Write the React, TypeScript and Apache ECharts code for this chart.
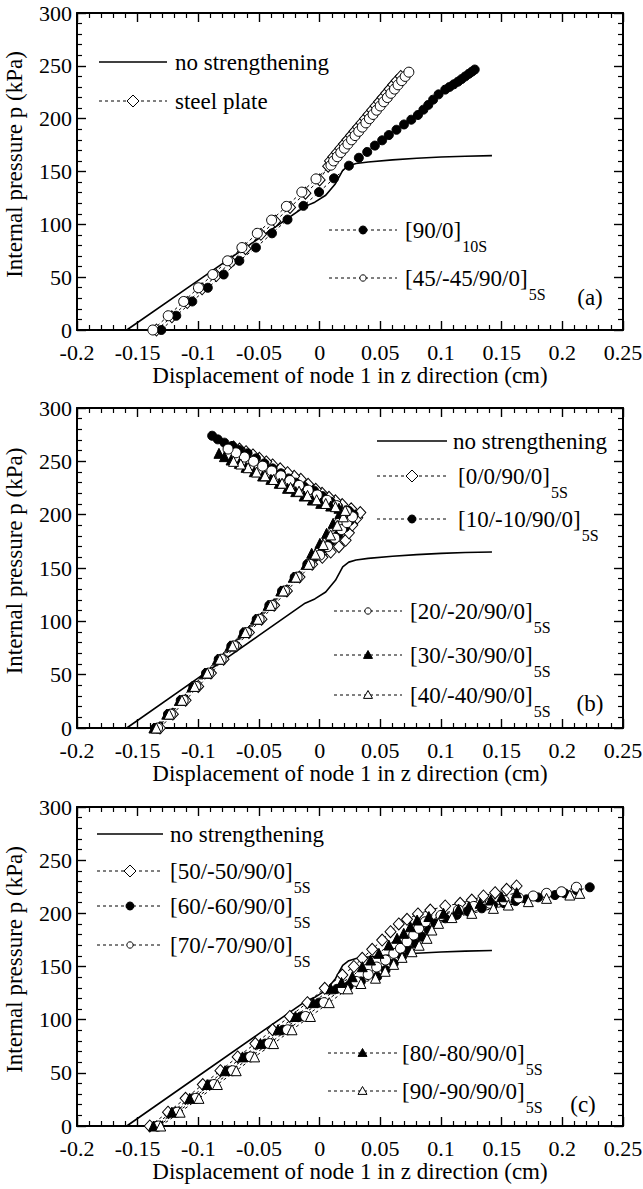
import React, { useEffect, useRef } from "react";
import * as echarts from "echarts";

const FONT = "Liberation Serif, Times New Roman, serif";

// ---------- shared curve ----------
const noStrengthening = [
  [-0.159, 0], [-0.1, 47], [-0.05, 86.8], [-0.012, 117], [-0.004, 121], [0.005, 127.5],
  [0.013, 138.5], [0.019, 151], [0.024, 155.5], [0.03, 157.5], [0.04, 159], [0.06, 161],
  [0.08, 162.5], [0.1, 163.7], [0.12, 164.5], [0.142, 165],
];

// ---------- panel (a) ----------
const steelPlate = [
  [-0.1345, 0], [-0.1218, 12.5], [-0.1091, 26], [-0.0969, 39], [-0.0851, 51.5], [-0.0729, 64.5],
  [-0.0611, 77], [-0.0484, 90.5], [-0.0366, 103], [-0.0244, 116], [-0.0117, 129.5], [0.0, 142],
  [0.007, 155], [0.0085, 160], [0.0113, 164], [0.0142, 168], [0.0171, 172], [0.02, 176],
  [0.0229, 180], [0.0258, 184], [0.0287, 188], [0.0316, 192], [0.0345, 196], [0.0374, 200],
  [0.0403, 204], [0.0432, 208], [0.0461, 212], [0.049, 216], [0.0519, 220], [0.0548, 224],
  [0.0577, 228], [0.0606, 232], [0.0635, 236], [0.0668, 240],
];
const ply90_0_10S = [
  [-0.1305, 0], [-0.1182, 13.5], [-0.105, 27], [-0.0922, 40], [-0.0791, 52.5], [-0.0662, 65.5],
  [-0.0525, 78], [-0.0393, 91.5], [-0.0265, 104.5], [-0.0134, 117.5], [-0.0005, 130.5],
  [0.0118, 143.5], [0.0241, 155.5], [0.0323, 163], [0.0392, 168.5], [0.0455, 174.5],
  [0.0515, 179.5], [0.057, 184.5], [0.0633, 189.5], [0.0695, 194.5], [0.0755, 199],
  [0.081, 203.5], [0.0855, 208.5], [0.0895, 213], [0.0935, 218], [0.098, 223], [0.1035, 227.5],
  [0.107, 230], [0.1105, 232.5], [0.114, 235], [0.117, 237.5], [0.12, 240], [0.123, 242.5],
  [0.1255, 244.5], [0.1278, 246.5],
];
const ply45_5S = [
  [-0.1375, 0], [-0.1248, 13.5], [-0.1121, 27], [-0.0999, 40], [-0.0881, 52.5], [-0.0759, 65.5],
  [-0.0641, 78], [-0.0514, 91.5], [-0.0396, 104], [-0.0274, 117], [-0.0147, 130.5], [-0.003, 143],
  [0.0093, 156], [0.0115, 160], [0.0145, 164], [0.0174, 168], [0.0204, 172], [0.0233, 176],
  [0.0263, 180], [0.0292, 184], [0.0322, 188], [0.0351, 192], [0.0381, 196], [0.041, 200],
  [0.044, 204], [0.0469, 208], [0.0499, 212], [0.0528, 216], [0.0558, 220], [0.0587, 224],
  [0.0617, 228], [0.0646, 232], [0.0676, 236], [0.0705, 240], [0.0735, 244],
];

// ---------- panel (b) ----------
const ply0_0 = [
  [-0.1316, 0], [-0.121, 13], [-0.1105, 26], [-0.1001, 39], [-0.0896, 51.5], [-0.0792, 64.5],
  [-0.0688, 77], [-0.0583, 89.5], [-0.0479, 102], [-0.0375, 115], [-0.027, 128.5], [-0.0166, 141.5],
  [-0.0062, 153.5], [0.0022, 160], [0.0091, 165], [0.0159, 170], [0.0214, 176], [0.0241, 183],
  [0.0269, 190.3], [0.031, 197], [0.0335, 202], [0.026, 205.5], [0.0186, 209.5], [0.013, 213],
  [0.0077, 216.3], [0.002, 220], [-0.0032, 223.8], [-0.0095, 228.5], [-0.0155, 233.1],
  [-0.021, 236], [-0.0265, 239.4], [-0.0325, 243], [-0.0388, 246.6], [-0.044, 249.5],
  [-0.0497, 252.8], [-0.055, 256], [-0.0607, 259], [-0.066, 261.5], [-0.071, 263.5],
];
const ply10_10 = [
  [-0.1356, 0], [-0.125, 13], [-0.1145, 26], [-0.1041, 39], [-0.0936, 51.5], [-0.0832, 64.5],
  [-0.0728, 77], [-0.0623, 89.5], [-0.0519, 102], [-0.0415, 115], [-0.031, 128.5], [-0.0206, 141.5],
  [-0.0102, 153.5], [-0.004, 161], [0.003, 168], [0.0095, 175], [0.0155, 181.5], [0.021, 188],
  [0.025, 194.5], [0.028, 200], [0.0241, 203.5], [0.0153, 207.5], [0.0091, 212.2], [0.0022, 217.5],
  [-0.0046, 222.5], [-0.0128, 226.2], [-0.0197, 230], [-0.0257, 234], [-0.032, 238.8],
  [-0.0388, 243.4], [-0.0456, 248.1], [-0.0525, 252.8], [-0.0594, 257.5], [-0.0662, 260.6],
  [-0.0722, 264.4], [-0.0785, 267.5], [-0.084, 270.6], [-0.0886, 274],
];
const ply20_20 = [
  [-0.1336, 0], [-0.123, 13], [-0.1125, 26], [-0.1021, 39], [-0.0916, 51.5], [-0.0812, 64.5],
  [-0.0708, 77], [-0.0603, 89.5], [-0.0499, 102], [-0.0395, 115], [-0.029, 128.5], [-0.0186, 141.5],
  [-0.0082, 153.5], [0.0, 162], [0.0065, 170], [0.0125, 178], [0.018, 186], [0.0225, 192.5],
  [0.027, 198], [0.022, 203], [0.014, 208.5], [0.006, 213.5], [-0.002, 218.5], [-0.0095, 223],
  [-0.017, 227.5], [-0.0245, 232], [-0.032, 236.5], [-0.0395, 241], [-0.047, 245.5],
  [-0.0545, 250], [-0.062, 254], [-0.069, 258], [-0.0755, 261.5],
];
const ply30_30 = [
  [-0.1366, 0], [-0.126, 13], [-0.1155, 26], [-0.1051, 39], [-0.0946, 51.5], [-0.0842, 64.5],
  [-0.0738, 77], [-0.0633, 89.5], [-0.0529, 102], [-0.0425, 115], [-0.032, 128.5], [-0.0216, 141.5],
  [-0.0112, 153.5], [-0.0066, 163.8], [0.0002, 173.1], [0.0057, 182.5], [0.0111, 191.9],
  [0.0166, 201], [0.0159, 206], [0.0091, 208.1], [0.0009, 210.6], [-0.006, 213.75],
  [-0.0128, 217.5], [-0.0197, 221.6], [-0.0265, 224.7], [-0.0333, 229.4], [-0.0402, 233.1],
  [-0.047, 236.25], [-0.0539, 240.3], [-0.0607, 244.4], [-0.0662, 248.1], [-0.073, 251.25],
  [-0.0785, 254.4], [-0.083, 257.5],
];
const ply40_40 = [
  [-0.1346, 0], [-0.124, 13], [-0.1135, 26], [-0.1031, 39], [-0.0926, 51.5], [-0.0822, 64.5],
  [-0.0718, 77], [-0.0613, 89.5], [-0.0509, 102], [-0.0405, 115], [-0.03, 128.5], [-0.0196, 141.5],
  [-0.0092, 153.5], [-0.0035, 163], [0.003, 172], [0.009, 181], [0.0145, 190], [0.0195, 198],
  [0.021, 204], [0.013, 207.5], [0.005, 210.5], [-0.0025, 214], [-0.01, 218], [-0.017, 222],
  [-0.024, 225.5], [-0.031, 229.5], [-0.038, 233], [-0.045, 236.5], [-0.052, 240],
  [-0.059, 244], [-0.065, 247.5], [-0.071, 250],
];

// ---------- panel (c) ----------
const ply50_50 = [
  [-0.14, 0], [-0.125, 13], [-0.1105, 26], [-0.0963, 39], [-0.0818, 52], [-0.0676, 65],
  [-0.053, 77.5], [-0.0388, 90.5], [-0.0246, 103], [-0.0101, 116], [0.0042, 129.5], [0.0187, 142],
  [0.0282, 150], [0.0351, 157.7], [0.0433, 166.2], [0.0515, 174.9], [0.0584, 182.7], [0.0652, 190],
  [0.072, 194.4], [0.081, 199.4], [0.0912, 203.1], [0.1035, 206.9], [0.1158, 209.4],
  [0.1254, 212.5], [0.135, 216.3], [0.1446, 219.4], [0.1541, 222.6], [0.1623, 225.7],
];
const ply60_60 = [
  [-0.135, 0], [-0.1195, 13], [-0.1045, 26], [-0.0898, 39], [-0.0748, 52], [-0.0601, 65],
  [-0.045, 77.5], [-0.0303, 90.5], [-0.0156, 103], [-0.0006, 116], [0.0142, 129], [0.024, 132],
  [0.034, 136], [0.0474, 140.4], [0.0543, 146.7], [0.0611, 153], [0.0679, 159.2], [0.0734, 165.5],
  [0.0789, 171.8], [0.0843, 178], [0.0898, 184.3], [0.0953, 190.6], [0.1035, 195.3], [0.113, 198.5],
  [0.1227, 201.5], [0.1336, 204.7], [0.143, 207.5], [0.152, 209.5], [0.1615, 211.5],
  [0.1705, 213.2], [0.18, 215], [0.1939, 217.2], [0.202, 218.8], [0.212, 221.5], [0.2226, 224.5],
];
const ply70_70 = [
  [-0.133, 0], [-0.1173, 13], [-0.102, 26], [-0.0871, 39], [-0.0718, 52], [-0.0569, 65],
  [-0.0415, 77.5], [-0.0265, 90.5], [-0.0116, 103], [0.0036, 116], [0.0187, 129], [0.03, 136],
  [0.04, 142.5], [0.047, 149.5], [0.0543, 156.1], [0.0611, 162.4], [0.0666, 167.1], [0.072, 173.3],
  [0.0775, 179.6], [0.0816, 185.9], [0.0871, 192.1], [0.1, 198], [0.1144, 203.1], [0.127, 206.5],
  [0.1405, 209.4], [0.152, 212], [0.164, 214.5], [0.176, 216.3], [0.187, 218.8], [0.1993, 220.3],
  [0.2116, 224.5],
];
const ply80_80 = [
  [-0.137, 0], [-0.1218, 13], [-0.1071, 26], [-0.0927, 39], [-0.078, 52], [-0.0636, 65],
  [-0.0488, 77.5], [-0.0344, 90.5], [-0.02, 103], [-0.0053, 116], [0.0092, 129], [0.018, 135],
  [0.0269, 140.4], [0.0351, 149.8], [0.0419, 156.1], [0.0488, 162.4], [0.057, 170.2],
  [0.0638, 176.5], [0.0693, 181.2], [0.0748, 187.4], [0.0803, 193.7], [0.09, 197], [0.1021, 200],
  [0.1144, 203.8], [0.123, 206.5], [0.1322, 209.4], [0.141, 212.5], [0.15, 215.6], [0.1623, 219.4],
];
const ply90_90 = [
  [-0.131, 0], [-0.115, 13], [-0.0995, 26], [-0.0843, 39], [-0.0688, 52], [-0.0536, 65],
  [-0.038, 77.5], [-0.0228, 90.5], [-0.0076, 103], [0.0079, 116], [0.0232, 129], [0.034, 134],
  [0.046, 139], [0.054, 145.5], [0.061, 152], [0.0679, 158.6], [0.0761, 163.9], [0.082, 170],
  [0.0885, 176.5], [0.0925, 184.3], [0.098, 190.6], [0.109, 196], [0.1254, 200], [0.1432, 204.7],
  [0.1555, 207.8], [0.172, 211], [0.187, 214.1], [0.2062, 217.2], [0.2144, 218.8],
];

// ---------- axes ----------
const X_MIN = -0.2, X_MAX = 0.25, X_STEP = 0.05;
const Y_MIN = 0, Y_MAX = 300, Y_STEP = 50;
const X_NAME = "Displacement of node 1 in z direction (cm)";
const Y_NAME = "Internal pressure p (kPa)";

const GRIDS = [
  { left: 77, top: 13, width: 546, height: 317, containLabel: false, outerBoundsMode: "none" },
  { left: 77, top: 408, width: 546, height: 320, containLabel: false, outerBoundsMode: "none" },
  { left: 77, top: 807, width: 546, height: 319, containLabel: false, outerBoundsMode: "none" },
];

const tickCommon = {
  axisLine: { show: true, onZero: false, lineStyle: { color: "#000", width: 2 } },
  axisTick: { show: true, inside: true, length: 9, lineStyle: { color: "#000", width: 1.4 } },
  minorTick: { show: true, splitNumber: 5, length: 5, lineStyle: { color: "#000", width: 1.2 } },
  splitLine: { show: false },
  minorSplitLine: { show: false },
};

const labelStyle = { color: "#000", fontFamily: FONT, fontSize: 23 };
const tickLabelStyle = { color: "#000", fontFamily: FONT, fontSize: 22 };

function buildAxes() {
  const xAxis: any[] = [];
  const yAxis: any[] = [];
  GRIDS.forEach((_, g) => {
    xAxis.push({
      gridIndex: g, type: "value", min: X_MIN, max: X_MAX, interval: X_STEP, position: "bottom",
      ...tickCommon,
      axisLabel: { ...tickLabelStyle, margin: 14, lineHeight: 16, formatter: (v: number) => String(+v.toFixed(2)) },
      name: X_NAME, nameLocation: "middle", nameGap: 31,
      nameTextStyle: { ...labelStyle },
    });
    xAxis.push({
      gridIndex: g, type: "value", min: X_MIN, max: X_MAX, interval: X_STEP, position: "top",
      ...tickCommon, axisLabel: { show: false },
    });
    yAxis.push({
      gridIndex: g, type: "value", min: Y_MIN, max: Y_MAX, interval: Y_STEP, position: "left",
      ...tickCommon,
      axisLabel: { ...tickLabelStyle, margin: 5, lineHeight: 16 },
      name: Y_NAME, nameLocation: "middle", nameGap: 51,
      nameTextStyle: { ...labelStyle, padding: [0, 0, 0, 14] },
    });
    yAxis.push({
      gridIndex: g, type: "value", min: Y_MIN, max: Y_MAX, interval: Y_STEP, position: "right",
      ...tickCommon, axisLabel: { show: false },
    });
  });
  return { xAxis, yAxis };
}

type Kind = "diamond" | "dot" | "ring" | "tri" | "otri" | "none";

function symbolOf(kind: Kind): { symbol: string; size: any; fill: string } {
  switch (kind) {
    case "diamond": return { symbol: "diamond", size: [11, 12], fill: "#fff" };
    case "dot": return { symbol: "circle", size: 9, fill: "#000" };
    case "ring": return { symbol: "circle", size: 10, fill: "#fff" };
    case "tri": return { symbol: "triangle", size: 10, fill: "#000" };
    case "otri": return { symbol: "triangle", size: 10, fill: "#fff" };
    default: return { symbol: "none", size: 0, fill: "#000" };
  }
}

function markerSeries(name: string, data: number[][], g: number, kind: Kind) {
  const s = symbolOf(kind);
  return {
    type: "line", name, data, xAxisIndex: 2 * g, yAxisIndex: 2 * g,
    symbol: s.symbol, symbolSize: s.size, showSymbol: true, showAllSymbol: true,
    lineStyle: { color: "#000", width: 1, type: [3, 3] },
    itemStyle: { color: s.fill, borderColor: "#000", borderWidth: 1 },
    silent: true, emphasis: { disabled: true }, clip: false,
  };
}

function solidSeries(name: string, data: number[][], g: number) {
  return {
    type: "line", name, data, xAxisIndex: 2 * g, yAxisIndex: 2 * g, symbol: "none",
    lineStyle: { color: "#000", width: 1.6, type: "solid" }, silent: true, emphasis: { disabled: true },
  };
}

// ---------- legend (drawn with graphic) ----------
function legendMarker(kind: Kind, cx: number, cy: number): any {
  const stroke = { stroke: "#000", lineWidth: 1 };
  if (kind === "diamond") {
    return { type: "polygon", shape: { points: [[cx, cy - 6], [cx + 6, cy], [cx, cy + 6], [cx - 6, cy]] }, style: { fill: "#fff", ...stroke } };
  }
  if (kind === "dot") return { type: "circle", shape: { cx, cy, r: 4 }, style: { fill: "#000", ...stroke } };
  if (kind === "ring") return { type: "circle", shape: { cx, cy, r: 3.2 }, style: { fill: "#fff", ...stroke } };
  const r = 4.5;
  const pts = [[cx, cy - r], [cx + r, cy + r * 0.75], [cx - r, cy + r * 0.75]];
  return { type: "polygon", shape: { points: pts }, style: { fill: kind === "tri" ? "#000" : "#fff", ...stroke } };
}

function legendText(x: number, y: number, main: string, sub?: string): any {
  if (!sub) {
    return { type: "text", x, y, style: { text: main, fill: "#000", fontSize: 23, fontFamily: FONT, align: "left", verticalAlign: "middle" } };
  }
  return {
    type: "text", x, y,
    style: {
      text: `{m|${main}}{s|${sub}}`, align: "left", verticalAlign: "middle", fill: "#000",
      fontSize: 23, fontFamily: FONT,
      rich: {
        m: { fontSize: 23, fontFamily: FONT, fill: "#000", lineHeight: 28 },
        s: { fontSize: 16, fontFamily: FONT, fill: "#000", lineHeight: 16, padding: [33, 0, 0, 1] },
      },
    },
  };
}

function legendRow(x1: number, x2: number, y: number, kind: Kind, tx: number, main: string, sub?: string): any[] {
  const els: any[] = [];
  if (kind === "none") {
    els.push({ type: "line", shape: { x1, y1: y, x2, y2: y }, style: { stroke: "#000", lineWidth: 1.6 } });
  } else {
    els.push({ type: "line", shape: { x1, y1: y, x2, y2: y }, style: { stroke: "#000", lineWidth: 1, lineDash: [3, 3] } });
    els.push(legendMarker(kind, (x1 + x2) / 2, y));
  }
  els.push(legendText(tx, y, main, sub));
  return els;
}

function panelTag(x: number, y: number, t: string): any {
  return { type: "text", x, y, style: { text: t, fill: "#000", fontSize: 23, fontFamily: FONT, align: "center", verticalAlign: "middle" } };
}

export default function App() {
  const ref = useRef<HTMLDivElement>(null);
  useEffect(() => {
    document.body.style.margin = "0";
    if (!ref.current) return;
    const chart = echarts.init(ref.current, undefined, { renderer: "svg" });
    const { xAxis, yAxis } = buildAxes();
    const series = [
      solidSeries("no strengthening (a)", noStrengthening, 0),
      markerSeries("steel plate", steelPlate, 0, "diamond"),
      markerSeries("[90/0]10S", ply90_0_10S, 0, "dot"),
      markerSeries("[45/-45/90/0]5S", ply45_5S, 0, "ring"),

      solidSeries("no strengthening (b)", noStrengthening, 1),
      markerSeries("[0/0/90/0]5S", ply0_0, 1, "diamond"),
      markerSeries("[10/-10/90/0]5S", ply10_10, 1, "dot"),
      markerSeries("[20/-20/90/0]5S", ply20_20, 1, "ring"),
      markerSeries("[30/-30/90/0]5S", ply30_30, 1, "tri"),
      markerSeries("[40/-40/90/0]5S", ply40_40, 1, "otri"),

      solidSeries("no strengthening (c)", noStrengthening, 2),
      markerSeries("[50/-50/90/0]5S", ply50_50, 2, "diamond"),
      markerSeries("[60/-60/90/0]5S", ply60_60, 2, "dot"),
      markerSeries("[70/-70/90/0]5S", ply70_70, 2, "ring"),
      markerSeries("[80/-80/90/0]5S", ply80_80, 2, "tri"),
      markerSeries("[90/-90/90/0]5S", ply90_90, 2, "otri"),
    ];
    const graphic = [
      // panel a
      ...legendRow(99, 167, 62, "none", 175, "no strengthening"),
      ...legendRow(99, 167, 101, "diamond", 175, "steel plate"),
      ...legendRow(329, 397, 230, "dot", 405, "[90/0]", "10S"),
      ...legendRow(329, 397, 278, "ring", 405, "[45/-45/90/0]", "5S"),
      panelTag(590, 297, "(a)"),
      // panel b
      ...legendRow(377, 447, 441, "none", 453, "no strengthening"),
      ...legendRow(377, 447, 476, "diamond", 458, "[0/0/90/0]", "5S"),
      ...legendRow(377, 447, 519, "dot", 458, "[10/-10/90/0]", "5S"),
      ...legendRow(334, 402, 611, "ring", 410, "[20/-20/90/0]", "5S"),
      ...legendRow(334, 402, 655, "tri", 410, "[30/-30/90/0]", "5S"),
      ...legendRow(334, 402, 695, "otri", 410, "[40/-40/90/0]", "5S"),
      panelTag(590, 703, "(b)"),
      // panel c
      ...legendRow(97, 163, 834, "none", 170, "no strengthening"),
      ...legendRow(97, 163, 871, "diamond", 170, "[50/-50/90/0]", "5S"),
      ...legendRow(97, 163, 906, "dot", 170, "[60/-60/90/0]", "5S"),
      ...legendRow(97, 163, 945, "ring", 170, "[70/-70/90/0]", "5S"),
      ...legendRow(328, 397, 1053, "tri", 402, "[80/-80/90/0]", "5S"),
      ...legendRow(328, 397, 1091, "otri", 402, "[90/-90/90/0]", "5S"),
      panelTag(583, 1104, "(c)"),
    ];
    chart.setOption({
      animation: false,
      backgroundColor: "#fff",
      textStyle: { fontFamily: FONT },
      grid: GRIDS,
      xAxis,
      yAxis,
      series,
      graphic,
    });
    return () => chart.dispose();
  }, []);
  return <div ref={ref} style={{ width: 643, height: 1189 }} />;
}
